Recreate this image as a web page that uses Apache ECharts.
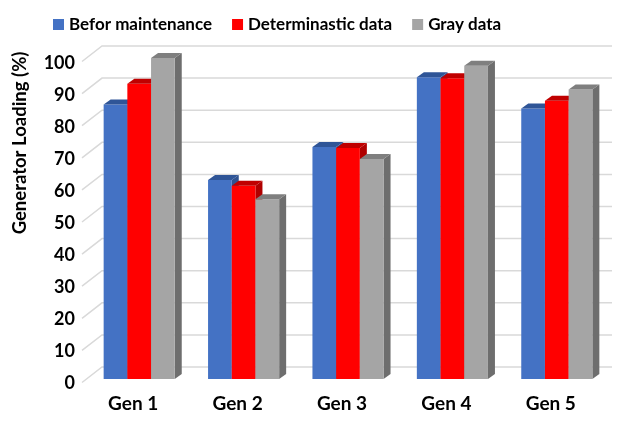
<!DOCTYPE html>
<html>
<head>
<meta charset="utf-8">
<style>
    html, body { margin: 0; padding: 0; background: #fff; }
    #chart { width: 620px; height: 421px; }
</style>
<script src="https://cdn.jsdelivr.net/npm/echarts@6/dist/echarts.min.js"></script>
</head>
<body>
<div id="chart"></div>
<script>
    var categories = ['Gen 1', 'Gen 2', 'Gen 3', 'Gen 4', 'Gen 5'];
    var seriesNames = ['Befor maintenance', 'Determinastic data', 'Gray data'];
    var beforValues = [85.5, 62, 72.3, 94, 84.3];
    var determValues = [92, 60.2, 72, 93.7, 86.7];
    var grayValues = [100, 56, 68.5, 97.6, 90.2];
    var yTicks = [0, 10, 20, 30, 40, 50, 60, 70, 80, 90, 100];

    var fontFam = 'Lato, "Noto Sans", sans-serif';
    var dx = 7, dy = -5; // bar depth

    // 3d looking bar: front face, top face and right side
    function bar3d(slot, front, top, side) {
        return function (params, api) {
            var cat = api.value(0);
            var base = api.coord([cat, 0]);
            var tp = api.coord([cat, api.value(1)]);
            var w = api.size([1, 0])[0] * 0.227;
            var x0 = base[0] + (slot - 1.5) * w;
            var x1 = x0 + w;
            var yb = base[1], yt = tp[1];
            return {
                type: 'group',
                children: [
                    {type: 'polygon', shape: {points: [[x1, yt], [x1 + dx, yt + dy], [x1 + dx, yb + dy], [x1, yb]]}, style: {fill: side}},
                    {type: 'rect', shape: {x: x0, y: yt, width: w, height: yb - yt}, style: {fill: front}},
                    {type: 'polygon', shape: {points: [[x0, yt], [x0 + dx, yt + dy], [x1 + dx, yt + dy], [x1, yt]]}, style: {fill: top}}
                ]
            };
        };
    }

    function toData(arr) {
        return arr.map(function (v, i) { return [i, v]; });
    }

    var labelStyle = {fontWeight: 'bold', color: '#000', fontFamily: fontFam};

    var myChart = echarts.init(document.getElementById('chart'));
    var option = {
        animation: false,
        textStyle: {fontFamily: fontFam},
        legend: {
            left: 48,
            top: 11,
            itemWidth: 11,
            itemHeight: 11,
            itemGap: 20,
            icon: 'rect',
            data: seriesNames,
            textStyle: {fontSize: 17, fontWeight: 'bold', color: '#000', fontFamily: fontFam}
        },
        // grid 0: bars, grid 1: front plane of the floor (tick labels)
        grid: [
            {left: 87, right: 11, top: 58, bottom: 42},
            {left: 87, right: 11, top: 63, bottom: 38}
        ],
        xAxis: [{
            type: 'category',
            data: categories,
            axisLine: {show: false},
            axisTick: {show: false},
            axisLabel: Object.assign({margin: 15, padding: [0, 12, 0, 0], fontSize: 19}, labelStyle)
        }, {
            type: 'category',
            gridIndex: 1,
            data: categories,
            show: false
        }],
        yAxis: [{
            type: 'value',
            min: 0,
            max: 100,
            interval: 10,
            axisLine: {show: false},
            axisTick: {show: false},
            splitLine: {show: false},
            axisLabel: {show: false}
        }, {
            type: 'value',
            gridIndex: 1,
            min: 0,
            max: 100,
            interval: 10,
            axisLine: {show: false},
            axisTick: {show: false},
            splitLine: {show: false},
            axisLabel: Object.assign({margin: 12, fontSize: 18}, labelStyle)
        }],
        graphic: [{
            type: 'text',
            x: 20,
            y: 143,
            rotation: Math.PI / 2,
            style: {
                text: 'Generator Loading (%)',
                fontSize: 18.5,
                fontWeight: 'bold',
                fill: '#000',
                fontFamily: fontFam,
                align: 'center',
                verticalAlign: 'middle'
            }
        }],
        series: [{
            // back wall + floor grid lines
            type: 'custom',
            silent: true,
            clip: false,
            z: 1,
            data: yTicks.map(function (v) { return [0, v]; }),
            renderItem: function (params, api) {
                var y = api.coord([0, api.value(1)])[1];
                var cs = params.coordSys;
                return {
                    type: 'polyline',
                    shape: {points: [[cs.x - 5, y + 3.5], [cs.x + 15, y - 12], [cs.x + cs.width + 3, y - 12]]},
                    style: {stroke: '#D9D9D9', lineWidth: 1.5, fill: null}
                };
            }
        }, {
            name: seriesNames[0],
            type: 'custom',
            z: 2,
            itemStyle: {color: '#4472C4'},
            data: toData(beforValues),
            encode: {x: 0, y: 1},
            renderItem: bar3d(0, '#4472C4', '#2F5597', '#2F528F')
        }, {
            name: seriesNames[1],
            type: 'custom',
            z: 2,
            itemStyle: {color: '#FF0000'},
            data: toData(determValues),
            encode: {x: 0, y: 1},
            renderItem: bar3d(1, '#FF0000', '#C00000', '#B00000')
        }, {
            name: seriesNames[2],
            type: 'custom',
            z: 2,
            itemStyle: {color: '#A5A5A5'},
            data: toData(grayValues),
            encode: {x: 0, y: 1},
            renderItem: bar3d(2, '#A5A5A5', '#7F7F7F', '#6E6E6E')
        }]
    };
    myChart.setOption(option);
</script>
</body>
</html>
